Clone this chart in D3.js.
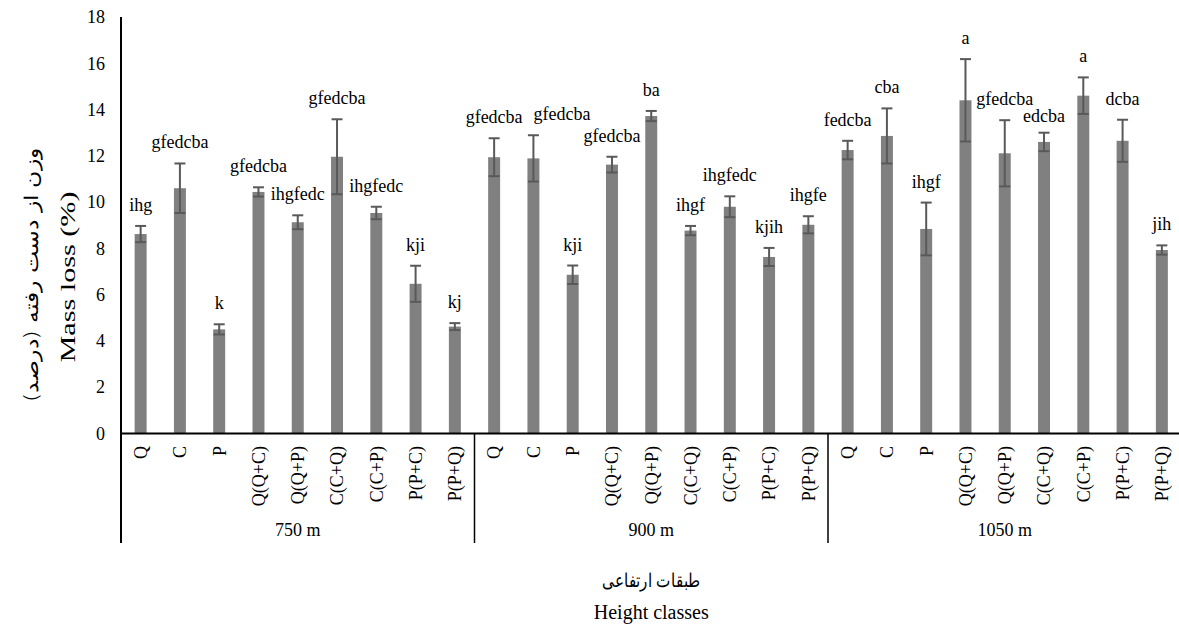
<!DOCTYPE html>
<html>
<head>
<meta charset="utf-8">
<script src="https://cdn.jsdelivr.net/npm/d3@7"></script>
<style>
  html, body { margin: 0; padding: 0; background: #fff; }
  svg { display: block; }
  .serif { font-family: "Liberation Serif", "Times New Roman", serif; fill: #000; }
  .fa { font-family: "DejaVu Sans", sans-serif; fill: #000; }
</style>
</head>
<body>
<svg id="chart" width="1179" height="634"></svg>
<script>
// Height classes and litter treatments
const groups = ["750 m", "900 m", "1050 m"];
const treatments = ["Q", "C", "P", "Q(Q+C)", "Q(Q+P)", "C(C+Q)", "C(C+P)", "P(P+C)", "P(P+Q)"];

// Mean mass loss (%) per treatment at each height class
const mass750  = [8.62, 10.60, 4.50, 10.44, 9.13, 11.96, 9.53, 6.47, 4.62];
const mass900  = [11.94, 11.89, 6.86, 11.62, 13.72, 8.77, 9.80, 7.63, 9.02];
const mass1050 = [12.25, 12.86, 8.84, 14.40, 12.11, 12.60, 14.60, 12.65, 7.93];

// Standard error
const err750  = [0.35, 1.07, 0.22, 0.20, 0.30, 1.62, 0.27, 0.78, 0.15];
const err900  = [0.82, 1.00, 0.40, 0.34, 0.22, 0.20, 0.45, 0.39, 0.37];
const err1050 = [0.40, 1.19, 1.14, 1.78, 1.43, 0.40, 0.79, 0.91, 0.20];

// Mean separation letters
const letters750  = ["ihg", "gfedcba", "k", "gfedcba", "ihgfedc", "gfedcba", "ihgfedc", "kji", "kj"];
const letters900  = ["gfedcba", "gfedcba", "kji", "gfedcba", "ba", "ihgf", "ihgfedc", "kjih", "ihgfe"];
const letters1050 = ["fedcba", "cba", "ihgf", "a", "gfedcba", "edcba", "a", "dcba", "jih"];

const yTicks = [0, 2, 4, 6, 8, 10, 12, 14, 16, 18];

const yTitleEn = "Mass loss  (%)";
const yTitleFa = "وزن از دست رفته (درصد)";
const xTitleFa = "طبقات ارتفاعی";
const xTitleEn = "Height classes";

// Flatten into one row per bar
const series = [mass750, mass900, mass1050];
const errs = [err750, err900, err1050];
const lets = [letters750, letters900, letters1050];
const rows = [];
groups.forEach((g, gi) => {
  treatments.forEach((t, ti) => {
    rows.push({ id: g + "|" + t, group: g, treatment: t,
                value: series[gi][ti], err: errs[gi][ti], label: lets[gi][ti] });
  });
});

const svg = d3.select("#chart");
const plotLeft = 121, plotRight = 1181.5, plotTop = 17, plotBottom = 433.5;

const x = d3.scaleBand()
  .domain(rows.map(d => d.id))
  .range([plotLeft, plotRight])
  .paddingInner(0.695)
  .paddingOuter(0.3475);

const y = d3.scaleLinear().domain([0, 18]).range([plotBottom, plotTop]);

// Y axis labels (no tick marks)
const yAxis = d3.axisLeft(y).tickValues(yTicks).tickSize(0).tickPadding(16).tickFormat(d3.format("d"));
const gy = svg.append("g").attr("transform", `translate(${plotLeft},0)`).call(yAxis);
gy.select(".domain").remove();
gy.selectAll("text").attr("class", "serif").style("font-size", "18px").attr("fill", "#000");

// Bars
svg.append("g").selectAll("rect").data(rows).join("rect")
  .attr("x", d => x(d.id))
  .attr("y", d => y(d.value))
  .attr("width", x.bandwidth())
  .attr("height", d => y(0) - y(d.value))
  .attr("fill", "#808080");

// Error bars
const eb = svg.append("g").attr("stroke", "#595959").attr("stroke-width", 2);
rows.forEach(d => {
  const cx = x(d.id) + x.bandwidth() / 2;
  const y1 = y(d.value + d.err), y0 = y(d.value - d.err);
  eb.append("line").attr("x1", cx).attr("x2", cx).attr("y1", y1).attr("y2", y0);
  eb.append("line").attr("x1", cx - 5.5).attr("x2", cx + 5.5).attr("y1", y1).attr("y2", y1);
  eb.append("line").attr("x1", cx - 5.5).attr("x2", cx + 5.5).attr("y1", y0).attr("y2", y0);
});

// Letters above the error bars, nudged apart where neighbours collide
const labels = svg.append("g").selectAll("text").data(rows).join("text")
  .attr("class", "serif")
  .attr("text-anchor", "middle")
  .style("font-size", "18px")
  .text(d => d.label);

const placed = [];
labels.each(function (d) {
  const w = this.getComputedTextLength();
  const p = { cx: x(d.id) + x.bandwidth() / 2, base: y(d.value + d.err) - 15, w };
  const prev = placed[placed.length - 1];
  if (prev) {
    const prevRight = prev.cx + prev.w / 2;
    const left = p.cx - p.w / 2;
    if (prevRight > left) {
      const dy = p.base - prev.base;
      if (Math.abs(dy) < 10) {
        p.cx += prevRight + 11 - left;
      } else if (dy > 0 && dy < 17) {
        p.base = prev.base + 17;
      } else if (dy < 0 && dy > -17) {
        p.base = prev.base - 17;
      }
    }
  }
  placed.push(p);
  d3.select(this).attr("x", p.cx).attr("y", p.base);
});

// Axis lines
svg.append("line").attr("x1", plotLeft).attr("x2", plotLeft).attr("y1", plotTop).attr("y2", 543)
  .attr("stroke", "#000").attr("stroke-width", 2);
svg.append("line").attr("x1", plotLeft).attr("x2", 1179).attr("y1", plotBottom).attr("y2", plotBottom)
  .attr("stroke", "#000").attr("stroke-width", 2);

// Group separators and group names
const groupWidth = (plotRight - plotLeft) / groups.length;
groups.forEach((g, gi) => {
  if (gi > 0) {
    const gx = plotLeft + gi * groupWidth;
    svg.append("line").attr("x1", gx).attr("x2", gx).attr("y1", plotBottom).attr("y2", 543)
      .attr("stroke", "#000").attr("stroke-width", 1.5);
  }
  svg.append("text").attr("class", "serif")
    .attr("x", plotLeft + (gi + 0.5) * groupWidth).attr("y", 536)
    .attr("text-anchor", "middle").style("font-size", "18px").text(g);
});

// Rotated treatment labels
svg.append("g").selectAll("text").data(rows).join("text")
  .attr("class", "serif")
  .attr("transform", d => `translate(${x(d.id) + x.bandwidth() / 2},446) rotate(-90)`)
  .attr("text-anchor", "end")
  .attr("dy", "0.35em")
  .style("font-size", "18px")
  .text(d => d.treatment);

// Y axis titles
svg.append("text").attr("class", "serif")
  .attr("transform", "translate(67,277) rotate(-90)")
  .attr("text-anchor", "middle").attr("dy", "0.35em")
  .attr("textLength", 171).attr("lengthAdjust", "spacingAndGlyphs")
  .style("font-size", "22px").text(yTitleEn);
svg.append("text").attr("class", "fa")
  .attr("transform", "translate(31,275) rotate(-90)")
  .attr("text-anchor", "middle").attr("dy", "0.35em")
  .attr("direction", "rtl")
  .attr("textLength", 254).attr("lengthAdjust", "spacingAndGlyphs")
  .style("font-size", "19px").style("font-weight", "300").text(yTitleFa);

// X axis titles
svg.append("text").attr("class", "fa")
  .attr("x", (plotLeft + plotRight) / 2).attr("y", 587)
  .attr("text-anchor", "middle").attr("direction", "rtl")
  .attr("textLength", 98).attr("lengthAdjust", "spacingAndGlyphs")
  .style("font-size", "19px").style("font-weight", "300").text(xTitleFa);
svg.append("text").attr("class", "serif")
  .attr("x", (plotLeft + plotRight) / 2).attr("y", 619)
  .attr("text-anchor", "middle")
  .style("font-size", "20px").text(xTitleEn);
</script>
</body>
</html>
